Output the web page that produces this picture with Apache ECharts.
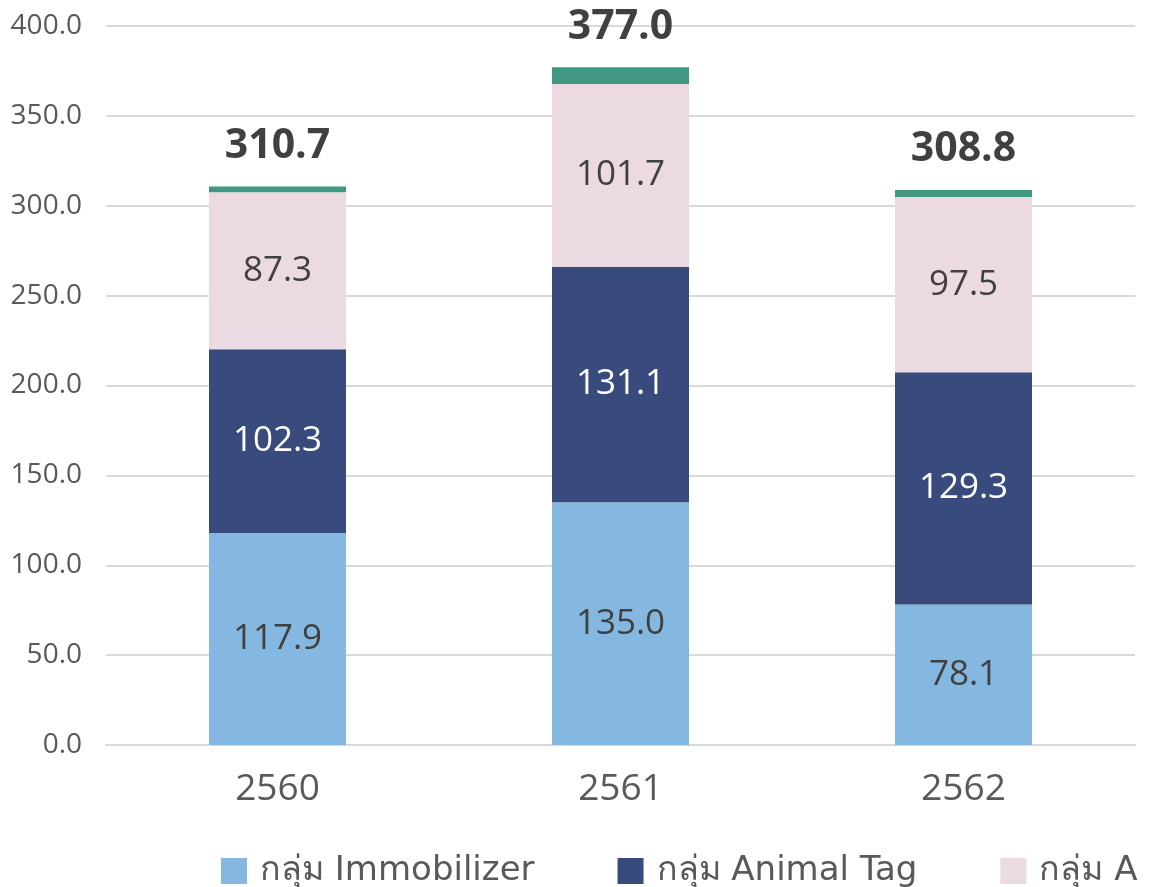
<!DOCTYPE html>
<html><head><meta charset="utf-8">
<script src="https://cdn.jsdelivr.net/npm/echarts@6/dist/echarts.min.js"></script>
<style>html,body{margin:0;padding:0;background:#fff}#c{width:1153px;height:887px}</style>
</head><body><div id="c"></div>
<script>
const categories = ['2560', '2561', '2562'];
const immobilizer = [117.9, 135.0, 78.1];
const animalTag = [102.3, 131.1, 129.3];
const groupA = [87.3, 101.7, 97.5];
const other = [3.2, 9.2, 3.9];
const totals = [310.7, 377.0, 308.8];
const yTicks = [0, 50, 100, 150, 200, 250, 300, 350, 400];

const FONT = 'Open Sans, Noto Sans, sans-serif';
const LFONT = 'DejaVu Sans, Open Sans, sans-serif';
const chart = echarts.init(document.getElementById('c'), null, {renderer: 'canvas'});
const segLabel = (color) => ({show: true, position: 'inside', color: color, fontSize: 35, fontFamily: FONT,
  formatter: p => p.value.toFixed(1)});
chart.setOption({
  animation: false,
  textStyle: {fontFamily: FONT},
  grid: {left: 106, right: 18, top: 26, bottom: 142},
  legend: {
    data: ['กลุ่ม Immobilizer', 'กลุ่ม Animal Tag', 'กลุ่ม A'],
    left: 216, top: 849, width: 3000, itemWidth: 26, itemHeight: 26, itemGap: 83,
    textStyle: {fontSize: 34, color: '#595959', fontFamily: LFONT, padding: [0, 0, 0, 8]},
    icon: 'rect'
  },
  xAxis: {
    type: 'category', data: categories,
    axisLine: {show: true, lineStyle: {color: '#d9d9d9', width: 2}},
    axisTick: {show: false},
    axisLabel: {fontSize: 37, color: '#595959', margin: 26, fontFamily: FONT}
  },
  yAxis: {
    type: 'value', min: yTicks[0], max: yTicks[yTicks.length - 1], interval: 50,
    axisLine: {show: false}, axisTick: {show: false},
    splitLine: {lineStyle: {color: '#d9d9d9', width: 2}},
    axisLabel: {fontSize: 28, color: '#595959', margin: 24, formatter: v => v.toFixed(1), fontFamily: FONT}
  },
  series: [
    {name: 'กลุ่ม Immobilizer', type: 'bar', stack: 's', data: immobilizer, barWidth: 137,
     itemStyle: {color: '#85B8E0'}, label: segLabel('#404040')},
    {name: 'กลุ่ม Animal Tag', type: 'bar', stack: 's', data: animalTag,
     itemStyle: {color: '#394A7C'}, label: segLabel('#ffffff')},
    {name: 'กลุ่ม A', type: 'bar', stack: 's', data: groupA,
     itemStyle: {color: '#EBDAE1'}, label: segLabel('#404040')},
    {name: 'อื่นๆ', type: 'bar', stack: 's', data: other,
     itemStyle: {color: '#419882'},
     label: {show: true, position: 'top', distance: 20, fontSize: 41, fontWeight: 'bold', color: '#404040', fontFamily: FONT,
       formatter: p => totals[p.dataIndex].toFixed(1)}}
  ]
});
</script></body></html>
